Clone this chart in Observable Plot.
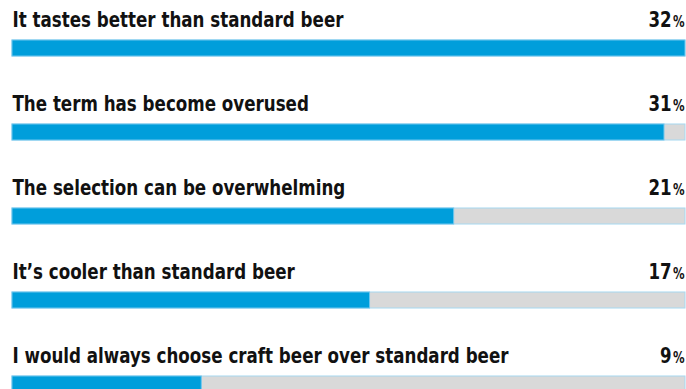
<!DOCTYPE html>
<html>
<head>
<meta charset="utf-8">
<script src="https://cdn.jsdelivr.net/npm/d3@7"></script>
<script src="https://cdn.jsdelivr.net/npm/@observablehq/plot@0.6"></script>
<style>
  html, body { margin: 0; padding: 0; background: #fff; overflow: hidden; }
  #chart svg { display: block; }
</style>
</head>
<body>
<div id="chart"></div>
<script>
const categories = [
  "It tastes better than standard beer",
  "The term has become overused",
  "The selection can be overwhelming",
  "It\u2019s cooler than standard beer",
  "I would always choose craft beer over standard beer"
];
const values = [32, 31, 21, 17, 9];
const maxValue = 32;

const data = categories.map((c, i) => ({category: c, value: values[i], max: maxValue}));

const font = "'DejaVu Sans Condensed', 'DejaVu Sans', sans-serif";
const labelSqueeze = 0.885;
const numberSqueeze = 0.86;

const chart = Plot.plot({
  width: 686,
  height: 389,
  marginLeft: 12,
  marginRight: 1,
  marginTop: 0,
  marginBottom: 0,
  style: {background: "#fff", overflow: "hidden"},
  x: {domain: [0, maxValue], axis: null},
  y: {type: "band", domain: categories, range: [0, 420], padding: 0, round: false, axis: null},
  marks: [
    Plot.barX(data, {y: "category", x1: 0, x2: "max", fill: "#d9d9d9", stroke: "#a6d8f0", strokeWidth: 1, insetTop: 40, insetBottom: 28}),
    Plot.barX(data, {y: "category", x1: 0, x2: "value", fill: "#009edb", stroke: "#6fc6ee", strokeWidth: 1, insetTop: 40, insetBottom: 28}),
    Plot.text(data, {y: "category", x: 0, text: "category", textAnchor: "start", lineAnchor: "bottom", dy: -15.5, fontSize: 21, fontWeight: "bold", fontFamily: font, fill: "#111"}),
    Plot.text(data, {y: "category", x: "max", text: d => String(d.value), textAnchor: "end", lineAnchor: "bottom", dy: -15.5, dx: -16, fontSize: 21.5, fontWeight: "bold", fontFamily: font, fill: "#111"}),
    Plot.text(data, {y: "category", x: "max", text: () => "%", textAnchor: "end", lineAnchor: "bottom", dy: -15.5, dx: -1, fontSize: 15, fontWeight: "bold", fontFamily: font, fill: "#111"})
  ]
});

// horizontally condense the text groups to mimic a condensed typeface
const textGroups = chart.querySelectorAll('g[aria-label="text"]');
const origins = [12, 685, 685];
const factors = [labelSqueeze, numberSqueeze, numberSqueeze];
textGroups.forEach((g, i) => {
  const wrap = document.createElementNS("http://www.w3.org/2000/svg", "g");
  const ox = origins[i] ?? 12;
  const s = factors[i] ?? labelSqueeze;
  wrap.setAttribute("transform", `translate(${ox},0) scale(${s},1) translate(${-ox},0)`);
  g.parentNode.insertBefore(wrap, g);
  wrap.appendChild(g);
});

document.getElementById("chart").appendChild(chart);
</script>
</body>
</html>
